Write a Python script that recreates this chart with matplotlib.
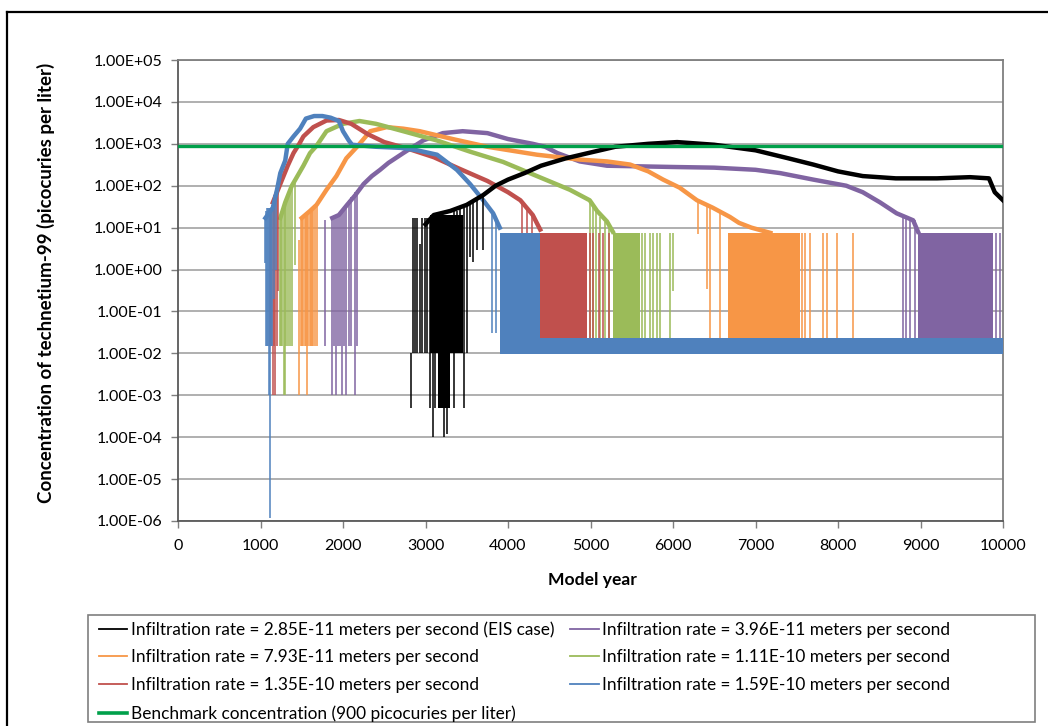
import matplotlib
matplotlib.use("Agg")
import matplotlib.pyplot as plt
from matplotlib.lines import Line2D
from matplotlib.patches import Rectangle
from matplotlib.ticker import FixedLocator, FuncFormatter

plt.rcParams['font.family'] = ['Lato', 'DejaVu Sans']

# ---------------- data (model year, pCi/L) ----------------
labels = ["Infiltration rate = 2.85E-11 meters per second (EIS case)",
          "Infiltration rate = 3.96E-11 meters per second",
          "Infiltration rate = 7.93E-11 meters per second",
          "Infiltration rate = 1.11E-10 meters per second",
          "Infiltration rate = 1.35E-10 meters per second",
          "Infiltration rate = 1.59E-10 meters per second"]
bench_label = "Benchmark concentration (900 picocuries per liter)"
bench_value = 900
colors = ["#000000", "#8064A2", "#F79646", "#9BBB59", "#C0504D", "#4F81BD"]
bench_color = "#00A04A"

# black - 2.85E-11 (EIS case)
blk_yr = [3000, 3100, 3300, 3500, 3700, 3850, 4000, 4200, 4400, 4700, 5000, 5300, 5700,
          6050, 6500, 7000, 7400, 7700, 8000, 8300, 8700, 9200, 9600, 9830, 9900, 10000]
blk_val = [12, 20, 25, 35, 60, 100, 140, 200, 300, 450, 620, 850, 1000,
           1100, 950, 700, 450, 320, 220, 170, 150, 150, 160, 150, 70, 45]
blk_spk_yr = [2824, 2850, 2875, 2900, 2935, 2960, 2990, 3020, 3060, 3090, 3120, 3225,
              3260, 3340, 3380, 3420, 3470, 3500, 3540, 3580, 3620, 3700]
blk_spk_hi = [0.01, 17, 17, 17, 4, 17, 17, 17, 17, 17, 20, 0.01,
              0.01, 25, 25, 30, 30, 35, 35, 40, 45, 60]
blk_spk_lo = [5e-4, 0.01, 0.01, 0.01, 0.01, 0.01, 0.01, 0.01, 5e-4, 1e-4, 5e-4, 1e-4,
              1.2e-4, 5e-4, 0.01, 0.01, 5e-4, 0.01, 2, 1.5, 3, 3]
blk_blocks = [(3050, 3460, 0.01, 20), (3150, 3300, 5e-4, 0.01)]

# purple - 3.96E-11
pur_yr = [1870, 1950, 2050, 2150, 2250, 2350, 2450, 2550, 2730, 2970, 3210, 3450, 3750,
          4000, 4300, 4450, 4600, 4870, 5200, 5600, 6000, 6500, 7000, 7300, 7700, 8100,
          8300, 8510, 8710, 8910, 8970]
pur_val = [17, 20, 35, 60, 110, 170, 240, 350, 600, 1200, 1800, 2000, 1800,
           1300, 1000, 850, 600, 380, 300, 290, 280, 270, 240, 200, 140, 100,
           70, 40, 22, 15, 8]
pur_spk_yr = [1782, 1870, 1890, 1915, 1935, 1960, 1985, 2010, 2040, 2070, 2100, 2140, 2170,
              8790, 8830, 8870, 8930, 9920, 9960]
pur_spk_hi = [15, 17, 17, 18, 20, 22, 25, 30, 35, 45, 55, 70, 80,
              20, 18, 16, 15, 7.4, 7.4]
pur_spk_lo = [0.015, 1e-3, 0.015, 1e-3, 0.015, 0.015, 1e-3, 0.015, 1e-3, 0.015, 0.015, 1e-3, 0.015,
              0.015, 0.015, 0.015, 0.015, 0.015, 0.015]
pur_blocks = [(8970, 9880, 0.015, 7.4)]

# orange - 7.93E-11
org_yr = [1500, 1600, 1680, 1800, 1920, 2040, 2170, 2250, 2330, 2530, 2730, 2930, 3330,
          3750, 4350, 4870, 5200, 5480, 5700, 5880, 6080, 6290, 6480, 6690, 6800, 6950, 7180]
org_val = [17, 25, 35, 80, 170, 450, 850, 1300, 2000, 2500, 2300, 2000, 1300,
           850, 550, 420, 380, 320, 220, 140, 90, 45, 30, 18, 13, 10, 7.5]
org_spk_yr = [1467, 1490, 1505, 1520, 1535, 1550, 1564, 1580, 1595, 1610, 1625, 1640, 1660, 1685,
              6300, 6410, 6450, 6570, 7560, 7600, 7660, 7820, 7870, 7990, 8180]
org_spk_hi = [5, 17, 17, 18, 18, 20, 20, 22, 25, 25, 28, 30, 32, 35,
              45, 35, 30, 22, 7.4, 7.4, 7.4, 7.4, 7.4, 7.4, 7.4]
org_spk_lo = [1e-3, 0.015, 0.015, 0.015, 0.015, 0.015, 1e-3, 0.015, 0.015, 0.015, 0.015, 0.015, 0.015, 0.015,
              7, 0.35, 0.015, 0.015, 0.015, 0.015, 0.015, 0.015, 0.015, 0.015, 0.015]
org_blocks = [(6670, 7540, 0.015, 7.4)]

# green - 1.11E-10
grn_yr = [1240, 1300, 1380, 1440, 1520, 1600, 1680, 1800, 2000, 2200, 2400, 2730, 3140,
          3540, 3940, 4350, 4750, 4990, 5080, 5200, 5270]
grn_val = [17, 40, 100, 160, 300, 600, 900, 2000, 3000, 3500, 3000, 2000, 1200,
           650, 370, 170, 80, 45, 25, 14, 8]
grn_spk_yr = [1236, 1250, 1265, 1280, 1295, 1310, 1333, 1355, 1382, 1420,
              4990, 5030, 5070, 5120, 5180, 5230, 5620, 5660, 5720, 5760, 5800, 5840, 5960, 6000]
grn_spk_hi = [17, 18, 25, 30, 35, 45, 60, 80, 110, 150,
              45, 35, 25, 18, 14, 10, 7.4, 7.4, 7.4, 7.4, 7.4, 7.4, 7.4, 7.4]
grn_spk_lo = [0.015, 0.015, 0.015, 1e-3, 1e-3, 0.015, 0.015, 0.015, 0.015, 1.3,
              0.015, 0.015, 0.015, 0.015, 0.015, 0.015, 0.015, 0.015, 0.015, 0.015, 0.015, 0.015, 0.015, 0.3]
grn_blocks = [(5270, 5600, 0.015, 7.4)]

# red - 1.35E-10
red_yr = [1150, 1240, 1330, 1400, 1470, 1520, 1640, 1800, 1950, 2100, 2300, 2500, 2800,
          3100, 3400, 3750, 4000, 4150, 4300, 4390]
red_val = [40, 110, 300, 600, 1000, 1500, 2500, 3600, 3700, 3000, 1700, 1100, 750,
           480, 260, 130, 70, 45, 20, 9]
red_spk_yr = [1115, 1130, 1150, 1165, 1180, 1195, 1212,
              4170, 4230, 4290, 4990, 5030, 5100, 5150, 5230]
red_spk_hi = [20, 25, 40, 50, 60, 80, 110,
              45, 30, 20, 7.4, 7.4, 7.4, 7.4, 7.4]
red_spk_lo = [0.015, 0.015, 1e-3, 0.015, 1e-3, 0.015, 0.3,
              0.015, 0.015, 0.015, 0.015, 0.015, 0.015, 0.015, 0.015]
red_blocks = [(4390, 4960, 0.015, 7.4)]

# blue - 1.59E-10
blu_yr = [1060, 1150, 1200, 1240, 1300, 1330, 1400, 1480, 1550, 1650, 1750, 1850, 1950,
          2000, 2070, 2110, 2400, 2700, 2900, 3140, 3380, 3540, 3700, 3820, 3900]
blu_val = [17, 30, 80, 200, 400, 1000, 1500, 2300, 4000, 4600, 4600, 4200, 3500,
           2000, 1200, 950, 850, 800, 700, 550, 240, 110, 45, 22, 10]
blu_spk_yr = [1055, 1065, 1075, 1090, 1100, 1115, 1125, 1140, 1165, 1190, 3810, 3860]
blu_spk_hi = [17, 25, 30, 30, 30, 30, 30, 35, 60, 90, 25, 15]
blu_spk_lo = [1.4, 0.015, 0.015, 0.015, 1e-3, 1.2e-6, 0.015, 0.015, 0.2, 1.0, 0.03, 0.03]
blu_blocks = [(3900, 4390, 0.015, 7.4)]

# every series settles into the same low band once it has passed through
low_start = [None, 8970, 6670, 5270, 4390, 3900]
low_lo, low_hi = 0.0095, 0.023
x_end = 10000

series = [
    (blk_yr, blk_val, blk_spk_yr, blk_spk_hi, blk_spk_lo, blk_blocks),
    (pur_yr, pur_val, pur_spk_yr, pur_spk_hi, pur_spk_lo, pur_blocks),
    (org_yr, org_val, org_spk_yr, org_spk_hi, org_spk_lo, org_blocks),
    (grn_yr, grn_val, grn_spk_yr, grn_spk_hi, grn_spk_lo, grn_blocks),
    (red_yr, red_val, red_spk_yr, red_spk_hi, red_spk_lo, red_blocks),
    (blu_yr, blu_val, blu_spk_yr, blu_spk_hi, blu_spk_lo, blu_blocks),
]
zorders = [9, 3, 4, 5, 6, 7]

# ---------------- figure ----------------
W, H = 1048, 726
fig = plt.figure(figsize=(W / 100, H / 100), dpi=100)
ax = fig.add_axes([178 / W, 1 - 521 / H, (1003 - 178) / W, (521 - 60) / H])

for (yr, val, sx, shi, slo, blocks), c, z, ls in zip(series, colors, zorders, low_start):
    if ls is not None:
        ax.fill_between([ls, x_end], low_lo, low_hi, color=c, lw=0, zorder=z)
    for x0, x1, lo, hi in blocks:
        ax.fill_between([x0, x1], lo, hi, color=c, lw=0, zorder=z)
    ax.vlines(sx, slo, shi, color=c, lw=1.1, zorder=z)
    ax.plot(yr, val, color=c, lw=3.2, solid_joinstyle='round', zorder=z)

ax.axhline(bench_value, color=bench_color, lw=2.4, zorder=10)

ax.set_yscale('log')
ax.set_xlim(0, 10000)
ax.set_ylim(1e-6, 1e5)
ax.xaxis.set_major_locator(FixedLocator(range(0, 10001, 1000)))
ax.yaxis.set_major_locator(FixedLocator([10.0 ** k for k in range(-6, 6)]))
ax.yaxis.set_minor_locator(FixedLocator([]))
ax.yaxis.set_major_formatter(FuncFormatter(lambda v, p: "%.2E" % v))
ax.tick_params(axis='both', direction='out', length=5, width=1, color='#7f7f7f',
               labelsize=11.5, labelcolor='#000000')
ax.tick_params(axis='x', pad=8)
ax.tick_params(axis='y', pad=6)
ax.grid(axis='y', color='#9a9a9a', lw=1.1, zorder=0)
ax.set_axisbelow(True)
for side in ['left', 'bottom']:
    ax.spines[side].set_color('#595959')
    ax.spines[side].set_linewidth(1.3)
for side in ['top', 'right']:
    ax.spines[side].set_color('#7f7f7f')
    ax.spines[side].set_linewidth(1.3)

fig.text(46 / W, 1 - 283 / H, "Concentration of technetium-99 (picocuries per liter)",
         rotation=90, ha='center', va='center', fontsize=13.5, fontweight='bold')
fig.text(592 / W, 1 - 580 / H, "Model year", ha='center', va='center',
         fontsize=12.6, fontweight='bold')

# legend (column-major order so the benchmark lands in the last row)
h = [Line2D([], [], color=c, lw=1.3) for c in colors]
hb = Line2D([], [], color=bench_color, lw=2.6)
handles = [h[0], h[2], h[4], hb, h[1], h[3], h[5]]
names = [labels[0], labels[2], labels[4], bench_label, labels[1], labels[3], labels[5]]
fig.legend(handles, names, ncol=2, loc='upper left', bbox_to_anchor=(99 / W, 1 - 621 / H),
           frameon=False, borderpad=0, borderaxespad=0, fontsize=12.4, handlelength=1.65,
           handletextpad=0.2, columnspacing=0.93, labelspacing=0.69)
fig.patches.append(Rectangle((88 / W, 1 - 722 / H), (1035 - 88) / W, (722 - 615) / H,
                             transform=fig.transFigure, fill=False, edgecolor='#7f7f7f', lw=1.2))

# outer frame of the figure
fig.add_artist(Line2D([7 / W, 1.0], [1 - 12 / H, 1 - 12 / H], transform=fig.transFigure,
                      color='black', lw=1.6))
fig.add_artist(Line2D([7 / W, 7 / W], [0.0, 1 - 12 / H], transform=fig.transFigure,
                      color='black', lw=1.6))

fig.savefig("out.png", dpi=100)
